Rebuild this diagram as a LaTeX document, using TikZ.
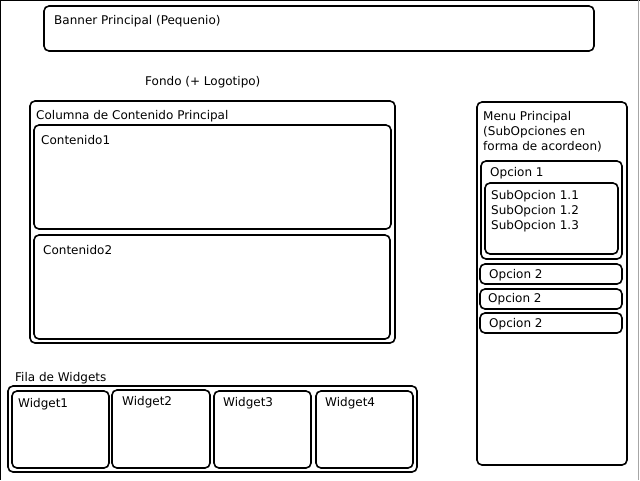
\documentclass[tikz,border=0pt]{standalone}
\usepackage{fontspec}
\setmainfont{DejaVu Sans}
\begin{document}
\begin{tikzpicture}[x=1pt,y=-1pt,
  box/.style={draw=black,line width=1.6pt,rounded corners=5pt},
  lbl/.style={anchor=west,inner sep=0pt,font=\fontsize{12}{15}\selectfont}]
\useasboundingbox (0,0) rectangle (640,480);
\draw[line width=1.5pt] (0,480) -- (0,0) -- (640,0);
\draw[line width=1.2pt,gray!70] (638.5,0) -- (638.5,480);
% banner
\draw[box] (44,6) rectangle (594,51);
\node[lbl] (banner) at (54,21) {Banner Principal (Pequenio)};
\node[lbl] (fondo) at (145,82) {Fondo (+ Logotipo)};
% column
\draw[box] (30,101) rectangle (395,343);
\node[lbl] (col) at (36,116) {Columna de Contenido Principal};
\draw[box] (34,125) rectangle (391,229);
\node[lbl] (c1) at (41,140) {Contenido1};
\draw[box] (34,235) rectangle (390,339);
\node[lbl] (c2) at (43,250) {Contenido2};
% menu
\draw[box] (477,102) rectangle (627,465);
\node[lbl,align=left,anchor=north west] (menu) at (483,111) {Menu Principal\\(SubOpciones en\\forma de acordeon)};
\draw[box] (481,161) rectangle (622,259);
\node[lbl] (o1) at (490,173) {Opcion 1};
\draw[box] (485,183) rectangle (618,254);
\node[lbl,align=left,anchor=north west] (sub) at (491,190) {SubOpcion 1.1\\SubOpcion 1.2\\SubOpcion 1.3};
\draw[box] (480,264) rectangle (622,284);
\node[lbl] (o2a) at (489,275) {Opcion 2};
\draw[box] (480,289) rectangle (622,309);
\node[lbl] (o2b) at (488,299) {Opcion 2};
\draw[box] (480,313) rectangle (622,333);
\node[lbl] (o2c) at (489,324) {Opcion 2};
% widgets
\node[lbl] (fila) at (15,378) {Fila de Widgets};
\draw[box] (8,386) rectangle (417,472);
\draw[box] (12,391) rectangle (109,468);
\node[lbl] (w1) at (18,404) {Widget1};
\draw[box] (112,390) rectangle (210,468);
\node[lbl] (w2) at (122,402) {Widget2};
\draw[box] (214,391) rectangle (311,468);
\node[lbl] (w3) at (223,403) {Widget3};
\draw[box] (316,391) rectangle (413,468);
\node[lbl] (w4) at (325,403) {Widget4};
\end{tikzpicture}
\end{document}
